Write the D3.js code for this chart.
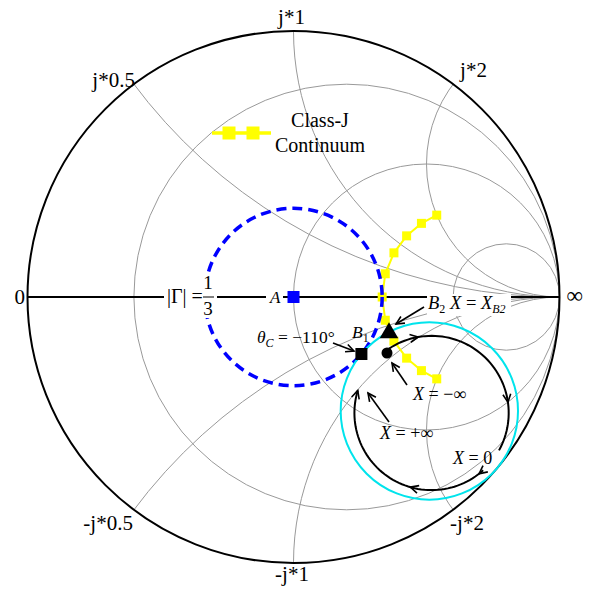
<!DOCTYPE html>
<html>
<head>
<meta charset="utf-8">
<script src="https://cdn.jsdelivr.net/npm/d3@7"></script>
<style>
  body { margin: 0; background: #fff; }
  svg { display: block; }
</style>
</head>
<body>
<svg id="chart" width="590" height="589" font-family="Liberation Serif, Times New Roman, Times, serif"></svg>
<script>
// Smith chart grid (normalized impedance)
const resistanceGrid = [0.25, 1, 4];
const reactanceGrid = [0.5, 1, 2, -0.5, -1, -2];
const reactanceLabels = ["j*0.5", "j*1", "j*2", "-j*0.5", "-j*1", "-j*2"];

// Class-J continuum: z = r + jx
const continuumR = [2, 2, 2, 2, 2, 2, 2, 2, 2, 2, 2];
const continuumX = [2, 1.6, 1.2, 0.8, 0.4, 0, -0.4, -0.8, -1.2, -1.6, -2];

// constant |Γ| circle
const gammaCircleMag = 1 / 3;

// r = 2 circle after the -40° rotation of the output network
const rotatedCenterMag = 2 / 3;
const rotatedCenterDeg = -40;
const rotatedRadius = 1 / 3;

// swept-X trajectory (Γ plane): centre, radius, start/end angles in degrees
const sweepCenter = [0.519, -0.436];
const sweepRadius = 0.29;
const sweepArcs = [[126, -29], [-48, -197]];
const sweepArrowAngles = [[100, 8], [-52, -106, -197]];

// points of interest in the Γ plane
const markerNames = ["A", "B1", "B2", "Bx"];
const markerRe = [0, 0.2553, 0.359, 0.3515];
const markerIm = [0, -0.2143, -0.135, -0.2105];

const FONT = "Liberation Serif, Times New Roman, Times, serif";
const svg = d3.select("#chart");
const cx = 293.5, cy = 297, R = 266;
const sx = d3.scaleLinear().domain([-1, 1]).range([cx - R, cx + R]);
const sy = d3.scaleLinear().domain([-1, 1]).range([cy + R, cy - R]);
const len = v => sx(v) - sx(0);
function toGamma(r, x) {
  const d = (r + 1) * (r + 1) + x * x;
  return [(r * r - 1 + x * x) / d, 2 * x / d];
}
function label(x, y, size) {
  return svg.append("text").attr("x", x).attr("y", y).attr("font-size", size)
    .attr("font-family", FONT).attr("fill", "#000");
}

// ---- grid ----
svg.append("defs").append("clipPath").attr("id", "unit")
  .append("circle").attr("cx", sx(0)).attr("cy", sy(0)).attr("r", len(1));
const grid = svg.append("g").attr("clip-path", "url(#unit)")
  .attr("fill", "none").attr("stroke", "#999").attr("stroke-width", 1);
resistanceGrid.forEach(r => grid.append("circle")
  .attr("cx", sx(r / (r + 1))).attr("cy", sy(0)).attr("r", len(1 / (r + 1))));
reactanceGrid.forEach(x => grid.append("circle")
  .attr("cx", sx(1)).attr("cy", sy(1 / x)).attr("r", len(Math.abs(1 / x))));

// real axis and outer circle
svg.append("line").attr("x1", sx(-1)).attr("x2", sx(1)).attr("y1", sy(0)).attr("y2", sy(0))
  .attr("stroke", "#000").attr("stroke-width", 1.8);
svg.append("circle").attr("cx", sx(0)).attr("cy", sy(0)).attr("r", len(1))
  .attr("fill", "none").attr("stroke", "#000").attr("stroke-width", 2);

// reactance labels on the rim
const labelOffsets = {
  "j*0.5": [1, 3, "end"], "j*1": [-2, -7, "middle"], "j*2": [7, -7, "start"],
  "-j*0.5": [-1, 20, "end"], "-j*1": [-1.5, 18, "middle"], "-j*2": [-3, 20, "start"]
};
reactanceGrid.forEach((x, i) => {
  const g = toGamma(0, x);
  const o = labelOffsets[reactanceLabels[i]];
  label(sx(g[0]) + o[0], sy(g[1]) + o[1], 21).attr("text-anchor", o[2]).text(reactanceLabels[i]);
});
label(sx(-1) - 2.5, sy(0) + 7, 21).attr("text-anchor", "end").text("0");
label(sx(1) + 7, sy(0) + 6, 23).text("∞");

// ---- class-J continuum ----
const yellow = "#ffff00";
const cont = continuumX.map((x, i) => toGamma(continuumR[i], x));
svg.append("path").datum(cont)
  .attr("d", d3.line().x(d => sx(d[0])).y(d => sy(d[1])))
  .attr("fill", "none").attr("stroke", yellow).attr("stroke-width", 2);
svg.selectAll("rect.cj").data(cont).join("rect").attr("class", "cj")
  .attr("x", d => sx(d[0]) - 4.5).attr("y", d => sy(d[1]) - 4.5)
  .attr("width", 9).attr("height", 9).attr("fill", yellow);

// ---- |Γ| = 1/3 circle ----
svg.append("circle").attr("cx", sx(0)).attr("cy", sy(0)).attr("r", len(gammaCircleMag))
  .attr("fill", "none").attr("stroke", "#0000ff").attr("stroke-width", 3.5)
  .attr("stroke-dasharray", "10,6");

// ---- rotated r = 2 circle ----
const rc = [rotatedCenterMag * Math.cos(rotatedCenterDeg * Math.PI / 180),
            rotatedCenterMag * Math.sin(rotatedCenterDeg * Math.PI / 180)];
svg.append("circle").attr("cx", sx(rc[0])).attr("cy", sy(rc[1])).attr("r", len(rotatedRadius))
  .attr("fill", "none").attr("stroke", "#00e4ec").attr("stroke-width", 2);

// ---- legend ----
svg.append("line").attr("x1", 212).attr("x2", 271).attr("y1", 133).attr("y2", 133)
  .attr("stroke", yellow).attr("stroke-width", 3.5);
[229, 253].forEach(x => svg.append("rect").attr("x", x - 6.5).attr("y", 133 - 6.5)
  .attr("width", 13).attr("height", 13).attr("fill", yellow));
label(320, 127, 20).attr("text-anchor", "middle").text("Class-J");
label(320, 152, 20).attr("text-anchor", "middle").text("Continuum");

// ---- annotations with white backing ----
function whiteBox(x, y, w, h) {
  svg.append("rect").attr("x", x).attr("y", y).attr("width", w).attr("height", h).attr("fill", "#fff");
}
whiteBox(164, 277, 53, 41);
label(167, 303, 20).text("|Γ| =");
label(208, 289, 19).attr("text-anchor", "middle").text("1");
label(208, 315, 19).attr("text-anchor", "middle").text("3");
svg.append("line").attr("x1", 203).attr("x2", 214).attr("y1", 297).attr("y2", 297)
  .attr("stroke", "#000").attr("stroke-width", 1);

whiteBox(266, 289, 17, 16);
label(270, 303, 17).attr("font-style", "italic").text("A");

whiteBox(427, 294, 84, 22);
const b2 = label(428, 309, 18.5);
b2.append("tspan").attr("font-style", "italic").text("B");
b2.append("tspan").attr("font-size", 12).attr("dy", 4).text("2");
b2.append("tspan").attr("dy", -4).attr("font-style", "italic").text(" X");
b2.append("tspan").text(" = ");
b2.append("tspan").attr("font-style", "italic").text("X");
b2.append("tspan").attr("font-style", "italic").attr("font-size", 12).attr("dy", 4).text("B2");

const th = label(257, 343, 17.5);
th.append("tspan").attr("font-style", "italic").text("θ");
th.append("tspan").attr("font-style", "italic").attr("font-size", 12).attr("dy", 4).text("C");
th.append("tspan").attr("dy", -4).text(" = −110°");

const b1 = label(352, 338, 17.5);
b1.append("tspan").attr("font-style", "italic").text("B");
b1.append("tspan").attr("font-size", 12).attr("dy", 4).text("1");

function xLabel(x, y, rest) {
  const t = label(x, y, 18);
  t.append("tspan").attr("font-style", "italic").text("X");
  t.append("tspan").text(rest);
}
xLabel(413, 400, " = −∞");
xLabel(380, 439, " = +∞");
xLabel(453, 464, " = 0");

// ---- arrows ----
function chevron(tx, ty, dx, dy) {
  const n = Math.hypot(dx, dy); dx /= n; dy /= n;
  const L = 9, a = 0.45;
  const pts = [-a, a].map(s => {
    const c = Math.cos(s), si = Math.sin(s);
    const rx = dx * c - dy * si, ry = dx * si + dy * c;
    return [tx - L * rx, ty - L * ry];
  });
  svg.append("path").attr("d", `M${pts[0]}L${tx},${ty}L${pts[1]}`)
    .attr("fill", "none").attr("stroke", "#000").attr("stroke-width", 1.6);
}
function arrow(x1, y1, x2, y2) {
  svg.append("line").attr("x1", x1).attr("y1", y1).attr("x2", x2).attr("y2", y2)
    .attr("stroke", "#000").attr("stroke-width", 1.6);
  chevron(x2, y2, x2 - x1, y2 - y1);
}
arrow(333, 343, 354, 351);
arrow(424, 307, 396, 324);
arrow(407, 385, 392, 363);
arrow(389, 422, 368, 393);

// swept X trajectory
const rad = d => d * Math.PI / 180;
const ptAt = deg => [sweepCenter[0] + sweepRadius * Math.cos(rad(deg)),
                     sweepCenter[1] + sweepRadius * Math.sin(rad(deg))];
sweepArcs.forEach((arc, k) => {
  const pts = d3.range(0, 61).map(i => ptAt(arc[0] + (arc[1] - arc[0]) * i / 60));
  svg.append("path").datum(pts)
    .attr("d", d3.line().x(d => sx(d[0])).y(d => sy(d[1])))
    .attr("fill", "none").attr("stroke", "#000").attr("stroke-width", 2);
  sweepArrowAngles[k].forEach(a => {
    const p = ptAt(a);
    chevron(sx(p[0]), sy(p[1]), Math.sin(rad(a)), Math.cos(rad(a)));
  });
});

// ---- markers ----
const mk = markerNames.map((n, i) => ({ n, x: sx(markerRe[i]), y: sy(markerIm[i]) }));
mk.forEach(m => {
  if (m.n === "A") {
    svg.append("rect").attr("x", m.x - 6).attr("y", m.y - 6).attr("width", 12).attr("height", 12).attr("fill", "#0000ff");
  } else if (m.n === "B1") {
    svg.append("rect").attr("x", m.x - 6).attr("y", m.y - 6).attr("width", 12).attr("height", 12).attr("fill", "#000");
  } else if (m.n === "B2") {
    svg.append("path").attr("d", d3.symbol(d3.symbolTriangle, 150)())
      .attr("transform", `translate(${m.x},${m.y})`).attr("fill", "#000");
  } else {
    svg.append("circle").attr("cx", m.x).attr("cy", m.y).attr("r", 5.5).attr("fill", "#000");
  }
});
</script>
</body>
</html>
